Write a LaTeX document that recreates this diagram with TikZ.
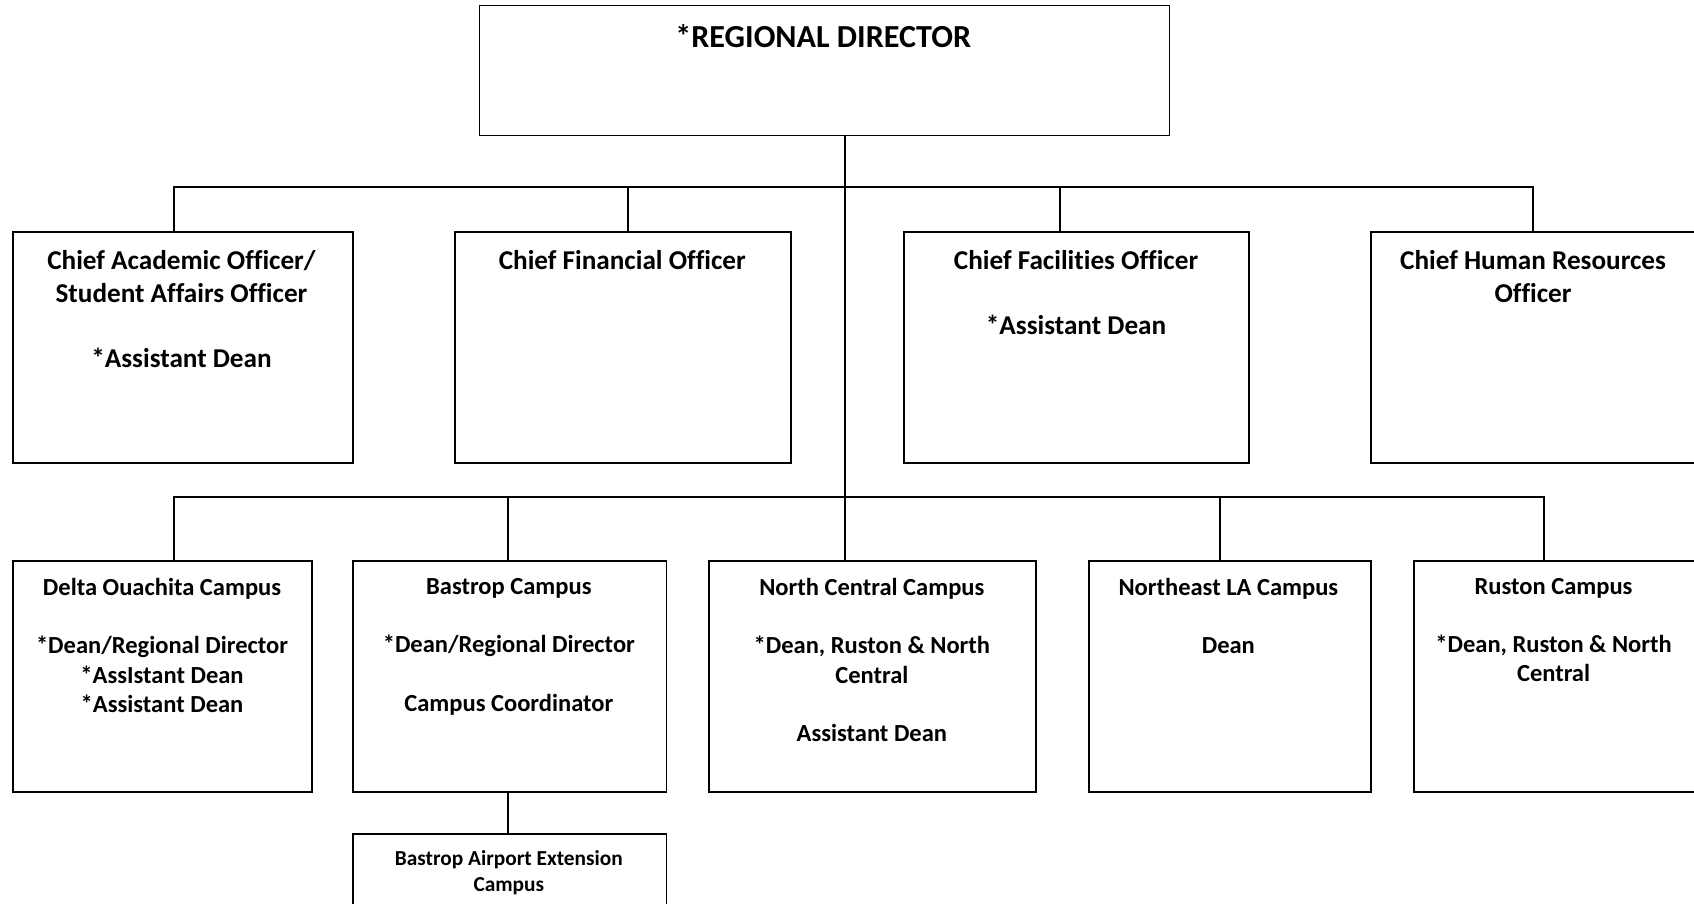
\documentclass[tikz,border=0pt]{standalone}
\usepackage{fontspec}
\setmainfont{Carlito}[Ligatures=NoCommon]
\newcommand\pxu{0.8103pt}
\begin{document}
\begin{tikzpicture}[x=0.8103pt,y=-0.8103pt,
  box/.style={draw,rectangle,line width=1.45pt,inner sep=0pt,anchor=north west},
  wire/.style={line width=1.45pt},
  ttl/.style={font=\fontsize{24.1}{28}\selectfont\bfseries,align=center,anchor=north,inner sep=0pt},
  lone/.style={font=\fontsize{20.4}{24.3}\selectfont\bfseries,align=center,anchor=north,inner sep=0pt},
  ltwo/.style={font=\fontsize{18.4}{21.9}\selectfont\bfseries,align=center,anchor=north,inner sep=0pt},
  lthree/.style={font=\fontsize{16}{19.4}\selectfont\bfseries,align=center,anchor=north,inner sep=0pt}]
\clip (0,0) rectangle (1568,836);
\fill[white] (0,0) rectangle (1568,836);
% boxes
\node[box,line width=0.8pt,minimum width=639*\pxu,minimum height=120*\pxu] (rd) at (443,5) {};
\node[box,minimum width=315*\pxu,minimum height=214*\pxu] (ca) at (11,214) {};
\node[box,minimum width=311*\pxu,minimum height=214*\pxu] (cb) at (420,214) {};
\node[box,minimum width=319*\pxu,minimum height=214*\pxu] (cc) at (836,214) {};
\node[box,minimum width=460*\pxu,minimum height=214*\pxu] (cd) at (1268,214) {};
\node[box,minimum width=277*\pxu,minimum height=214*\pxu] (dl) at (11,518) {};
\node[box,minimum width=290*\pxu,minimum height=214*\pxu] (bs) at (326,518) {};
\node[box,minimum width=303*\pxu,minimum height=214*\pxu] (nc) at (655,518) {};
\node[box,minimum width=261*\pxu,minimum height=214*\pxu] (ne) at (1007,518) {};
\node[box,minimum width=420*\pxu,minimum height=214*\pxu] (ru) at (1308,518) {};
\node[box,minimum width=290*\pxu,minimum height=150*\pxu] (ap) at (326,771) {};
% connector points
\coordinate (b1) at (782,173);
\coordinate (b2) at (782,460);
\coordinate (ja) at (161,214);
\coordinate (jb) at (581,214);
\coordinate (jc) at (981,214);
\coordinate (jd) at (1419,214);
\coordinate (ka) at (161,518);
\coordinate (kb) at (470,518);
\coordinate (kn) at (1129,518);
\coordinate (kr) at (1429,518);
% connectors
\draw[wire] (rd.south -| b1) -- (nc.north -| b1);
\draw[wire] (ja) -- (ja |- b1) -- (jd |- b1) -- (jd);
\draw[wire] (jb) -- (jb |- b1);
\draw[wire] (jc) -- (jc |- b1);
\draw[wire] (ka) -- (ka |- b2) -- (kr |- b2) -- (kr);
\draw[wire] (kb) -- (kb |- b2);
\draw[wire] (kn) -- (kn |- b2);
\draw[wire] (bs.south -| kb) -- (ap.north -| kb);
% texts
\node[ttl] (rdt) at (762,22) {*REGIONAL DIRECTOR};
\node[lone] (cat) at (168,232) {Chief Academic Officer/\\Student Affairs Officer\\[24.3pt]{}*Assistant Dean};
\node[lone] (cbt) at (576,232) {Chief Financial Officer};
\node[lone] (cct) at (996,232) {Chief Facilities Officer\\[24.3pt]{}*Assistant Dean};
\node[lone] (cdt) at (1419,232) {Chief Human Resources\\Officer};
\node[ltwo] (dlt) at (150,535) {Delta Ouachita Campus\\[21.9pt]{}*Dean/Regional Director\\{}*AssIstant Dean\\{}*Assistant Dean};
\node[ltwo] (bst) at (471,535) {Bastrop Campus\\[21.9pt]{}*Dean/Regional Director\\[21.9pt]Campus Coordinator};
\node[ltwo] (nct) at (807,535) {North Central Campus\\[21.9pt]{}*Dean, Ruston \& North\\Central\\[21.9pt]Assistant Dean};
\node[ltwo] (net) at (1137,535) {Northeast LA Campus\\[21.9pt]Dean};
\node[ltwo] (rut) at (1438,535) {Ruston Campus\\[21.9pt]{}*Dean, Ruston \& North\\Central};
\node[lthree] (apt) at (471,787) {Bastrop Airport Extension\\Campus};
\end{tikzpicture}
\end{document}
